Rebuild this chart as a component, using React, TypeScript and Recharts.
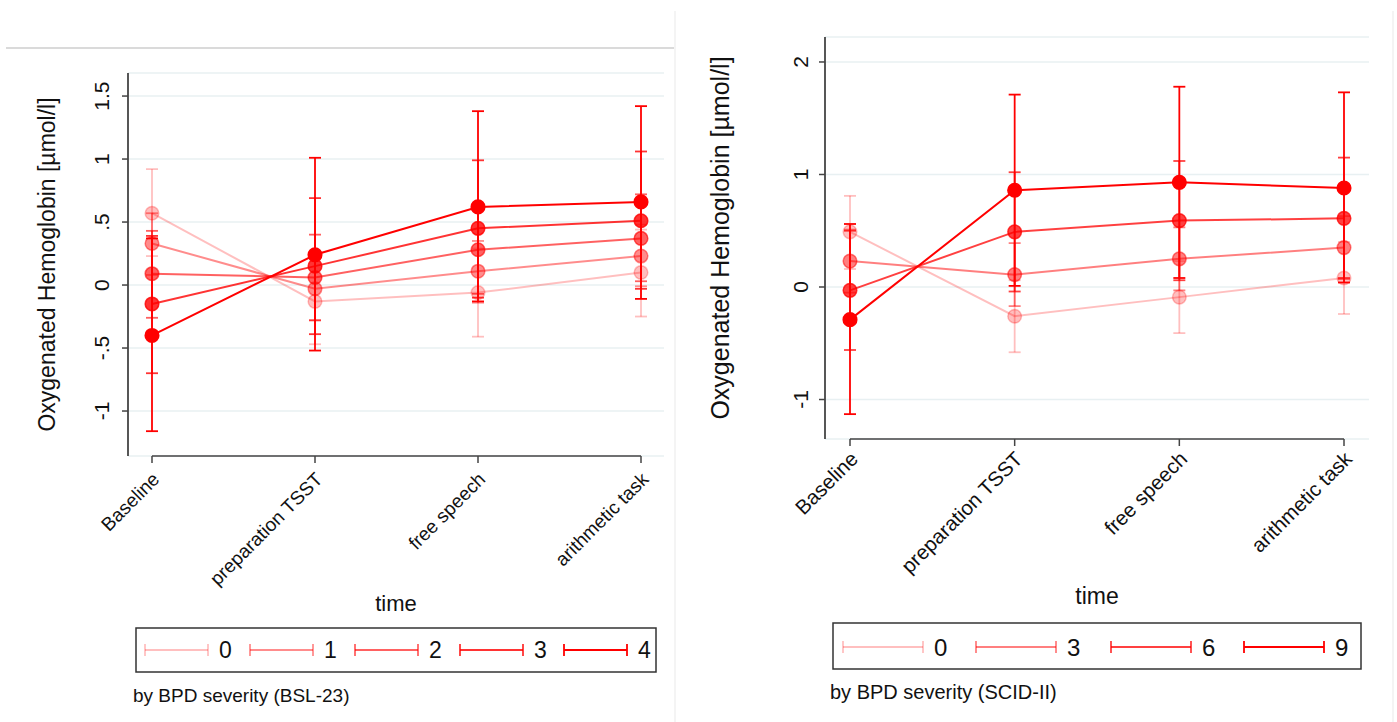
import React from 'react';
import { LineChart, Line, XAxis, YAxis, CartesianGrid, ErrorBar, Label, ReferenceLine } from 'recharts';

// Time points of the stress protocol
const timePoints = ['Baseline', 'preparation TSST', 'free speech', 'arithmetic task'];

// Panel A: predicted HbO by BPD severity (BSL-23) — margins with 95% CI
const bslLevels = ['0', '1', '2', '3', '4'];
const bslMean0 = [0.57, -0.13, -0.06, 0.10];
const bslLow0 = [0.23, -0.47, -0.41, -0.25];
const bslHigh0 = [0.92, 0.22, 0.29, 0.44];
const bslMean1 = [0.33, -0.03, 0.11, 0.23];
const bslLow1 = [0.08, -0.28, -0.14, -0.01];
const bslHigh1 = [0.57, 0.21, 0.35, 0.48];
const bslMean2 = [0.09, 0.06, 0.28, 0.37];
const bslLow2 = [-0.26, -0.28, -0.07, 0.03];
const bslHigh2 = [0.43, 0.40, 0.62, 0.72];
const bslMean3 = [-0.15, 0.15, 0.45, 0.51];
const bslLow3 = [-0.70, -0.39, -0.10, -0.03];
const bslHigh3 = [0.39, 0.69, 0.99, 1.06];
const bslMean4 = [-0.40, 0.24, 0.62, 0.66];
const bslLow4 = [-1.16, -0.52, -0.13, -0.11];
const bslHigh4 = [0.37, 1.01, 1.38, 1.42];
const bslTicks = [-1, -0.5, 0, 0.5, 1, 1.5];

// Panel B: predicted HbO by BPD severity (SCID-II)
const scidLevels = ['0', '3', '6', '9'];
const scidMean0 = [0.49, -0.26, -0.09, 0.08];
const scidLow0 = [0.16, -0.58, -0.41, -0.24];
const scidHigh0 = [0.81, 0.06, 0.23, 0.40];
const scidMean3 = [0.23, 0.11, 0.25, 0.35];
const scidLow3 = [-0.05, -0.17, -0.03, 0.07];
const scidHigh3 = [0.51, 0.39, 0.53, 0.63];
const scidMean6 = [-0.03, 0.49, 0.59, 0.61];
const scidLow6 = [-0.56, -0.04, 0.06, 0.08];
const scidHigh6 = [0.50, 1.02, 1.12, 1.15];
const scidMean9 = [-0.29, 0.86, 0.93, 0.88];
const scidLow9 = [-1.13, 0.01, 0.08, 0.04];
const scidHigh9 = [0.56, 1.71, 1.78, 1.73];
const scidTicks = [-1, 0, 1, 2];

const FONT = '"Liberation Sans", Arial, Helvetica, sans-serif';
const AXIS = '#444';
const GRID = '#e8f0f2';

type Series = { name: string; mean: number[]; low: number[]; high: number[]; opacity: number };

const bslSeries: Series[] = [
  { name: bslLevels[0], mean: bslMean0, low: bslLow0, high: bslHigh0, opacity: 0.25 },
  { name: bslLevels[1], mean: bslMean1, low: bslLow1, high: bslHigh1, opacity: 0.45 },
  { name: bslLevels[2], mean: bslMean2, low: bslLow2, high: bslHigh2, opacity: 0.62 },
  { name: bslLevels[3], mean: bslMean3, low: bslLow3, high: bslHigh3, opacity: 0.8 },
  { name: bslLevels[4], mean: bslMean4, low: bslLow4, high: bslHigh4, opacity: 1 },
];

const scidSeries: Series[] = [
  { name: scidLevels[0], mean: scidMean0, low: scidLow0, high: scidHigh0, opacity: 0.25 },
  { name: scidLevels[1], mean: scidMean3, low: scidLow3, high: scidHigh3, opacity: 0.5 },
  { name: scidLevels[2], mean: scidMean6, low: scidLow6, high: scidHigh6, opacity: 0.75 },
  { name: scidLevels[3], mean: scidMean9, low: scidLow9, high: scidHigh9, opacity: 1 },
];

const red = (op: number) => `rgba(255,0,0,${op})`;

function buildRows(series: Series[]) {
  return timePoints.map((t, i) => {
    const row: Record<string, any> = { time: t };
    series.forEach((s, k) => {
      row['m' + k] = s.mean[i];
      row['e' + k] = [s.mean[i] - s.low[i], s.high[i] - s.mean[i]];
    });
    return row;
  });
}

const stataNum = (v: number) => (v === 0 ? '0' : String(v).replace('0.', '.'));

type PanelCfg = {
  left: number;
  width: number;
  height: number;
  margin: { top: number; right: number; bottom: number; left: number };
  xAxisHeight: number;
  yDomain: [number, number];
  yTicks: number[];
  xPad: { left: number; right: number };
  yLabelX: number;
  yLabelSize: number;
  yTickSize: number;
  yTickGap: number;
  xTickSize: number;
  xTickGap: number;
  timeY: number;
  timeSize: number;
  series: Series[];
  legend: {
    box: [number, number, number, number];
    segStart: number[];
    segLen: number;
    lineY: number;
    labelSize: number;
    caption: string;
    captionX: number;
    captionY: number;
    captionSize: number;
  };
};

function Panel({ cfg }: { cfg: PanelCfg }) {
  const data = buildRows(cfg.series);
  const plotTop = cfg.margin.top;
  const plotBottom = cfg.height - cfg.margin.bottom - cfg.xAxisHeight;
  const plotLeft = cfg.margin.left + 60;
  const plotRight = cfg.width - cfg.margin.right;
  const midY = (plotTop + plotBottom) / 2;
  const midX = (plotLeft + plotRight) / 2;

  const YTick = (p: any) => (
    <text
      x={p.x}
      y={p.y}
      transform={`rotate(-90 ${p.x} ${p.y})`}
      textAnchor="middle"
      dominantBaseline="central"
      fontSize={cfg.yTickSize}
      fontFamily={FONT}
      fill="#111"
    >
      {stataNum(p.payload.value)}
    </text>
  );

  const XTick = (p: any) => {
    const ax = p.x + 4;
    const ay = p.y;
    return (
      <text
        x={ax}
        y={ay}
        transform={`rotate(-45 ${ax} ${ay})`}
        textAnchor="end"
        dominantBaseline="central"
        fontSize={cfg.xTickSize}
        fontFamily={FONT}
        fill="#111"
      >
        {p.payload.value}
      </text>
    );
  };

  const lg = cfg.legend;
  return (
    <div style={{ position: 'absolute', left: cfg.left, top: 0, width: cfg.width, height: cfg.height }}>
      <LineChart width={cfg.width} height={cfg.height} data={data} margin={cfg.margin}>
        <CartesianGrid horizontal vertical={false} stroke={GRID} strokeWidth={1.5} />
        <XAxis
          dataKey="time"
          type="category"
          height={cfg.xAxisHeight}
          padding={cfg.xPad}
          axisLine={false}
          tickLine={{ stroke: AXIS, strokeWidth: 1.5 }}
          tickSize={7}
          tickMargin={cfg.xTickGap}
          interval={0}
          tick={XTick}
        >
          <Label
            content={() => (
              <text
                x={midX}
                y={cfg.timeY}
                textAnchor="middle"
                dominantBaseline="central"
                fontSize={cfg.timeSize}
                fontFamily={FONT}
                fill="#111"
              >
                time
              </text>
            )}
          />
        </XAxis>
        <YAxis
          type="number"
          width={60}
          domain={cfg.yDomain}
          allowDataOverflow
          ticks={cfg.yTicks}
          interval={0}
          axisLine={{ stroke: AXIS, strokeWidth: 1.8 }}
          tickLine={{ stroke: AXIS, strokeWidth: 1.5 }}
          tickSize={6}
          tickMargin={cfg.yTickGap}
          tick={YTick}
        >
          <Label
            content={() => (
              <text
                x={cfg.yLabelX}
                y={midY}
                transform={`rotate(-90 ${cfg.yLabelX} ${midY})`}
                textAnchor="middle"
                dominantBaseline="central"
                fontSize={cfg.yLabelSize}
                fontFamily={FONT}
                fill="#111"
              >
                Oxygenated Hemoglobin [µmol/l]
              </text>
            )}
          />
        </YAxis>
        <ReferenceLine
          segment={[
            { x: timePoints[0], y: cfg.yDomain[0] },
            { x: timePoints[timePoints.length - 1], y: cfg.yDomain[0] },
          ]}
          stroke={AXIS}
          strokeWidth={1.5}
          ifOverflow="visible"
        />
        {cfg.series.map((s, k) => (
          <Line
            key={s.name}
            type="linear"
            dataKey={'m' + k}
            name={s.name}
            stroke={red(s.opacity)}
            strokeWidth={2}
            dot={{ r: 6.8, fill: red(s.opacity), stroke: red(s.opacity), strokeWidth: 1.5 }}
            activeDot={false}
            isAnimationActive={false}
          >
            <ErrorBar dataKey={'e' + k} width={6} stroke={red(s.opacity)} strokeWidth={1.8} direction="y" />
          </Line>
        ))}
      </LineChart>
      <svg
        width={cfg.width}
        height={cfg.height}
        style={{ position: 'absolute', left: 0, top: 0, pointerEvents: 'none' }}
      >
        <rect
          x={lg.box[0] - cfg.left}
          y={lg.box[1]}
          width={lg.box[2] - lg.box[0]}
          height={lg.box[3] - lg.box[1]}
          fill="none"
          stroke="#333"
          strokeWidth={1.5}
        />
        {cfg.series.map((s, k) => {
          const x1 = lg.segStart[k] - cfg.left;
          const x2 = x1 + lg.segLen;
          const c = red(s.opacity);
          return (
            <g key={s.name}>
              <line x1={x1} y1={lg.lineY} x2={x2} y2={lg.lineY} stroke={c} strokeWidth={2} />
              <line x1={x1} y1={lg.lineY - 6} x2={x1} y2={lg.lineY + 6} stroke={c} strokeWidth={1.8} />
              <line x1={x2} y1={lg.lineY - 6} x2={x2} y2={lg.lineY + 6} stroke={c} strokeWidth={1.8} />
              <text
                x={x2 + 11}
                y={lg.lineY}
                dominantBaseline="central"
                fontSize={lg.labelSize}
                fontFamily={FONT}
                fill="#111"
              >
                {s.name}
              </text>
            </g>
          );
        })}
        <text
          x={lg.captionX - cfg.left}
          y={lg.captionY}
          dominantBaseline="central"
          fontSize={lg.captionSize}
          fontFamily={FONT}
          fill="#111"
        >
          {lg.caption}
        </text>
      </svg>
    </div>
  );
}

const bslCfg: PanelCfg = {
  left: 0,
  width: 680,
  height: 722,
  margin: { top: 73, right: 16, bottom: 0, left: 68 },
  xAxisHeight: 266,
  yDomain: [-1.357, 1.683],
  yTicks: bslTicks,
  xPad: { left: 24, right: 23 },
  yLabelX: 47,
  yLabelSize: 23,
  yTickSize: 21,
  yTickGap: 20,
  xTickSize: 19,
  xTickGap: 13,
  timeY: 603,
  timeSize: 22,
  series: bslSeries,
  legend: {
    box: [136, 628, 656, 672],
    segStart: [145, 250, 355, 460, 564],
    segLen: 63,
    lineY: 650,
    labelSize: 23,
    caption: 'by BPD severity (BSL-23)',
    captionX: 133,
    captionY: 695,
    captionSize: 19,
  },
};

const scidCfg: PanelCfg = {
  left: 680,
  width: 717,
  height: 722,
  margin: { top: 37, right: 28, bottom: 0, left: 85 },
  xAxisHeight: 283,
  yDomain: [-1.351, 2.222],
  yTicks: scidTicks,
  xPad: { left: 25, right: 25 },
  yLabelX: 40,
  yLabelSize: 25,
  yTickSize: 21,
  yTickGap: 18,
  xTickSize: 20.5,
  xTickGap: 9,
  timeY: 596,
  timeSize: 23,
  series: scidSeries,
  legend: {
    box: [833, 623, 1361, 669],
    segStart: [843, 976, 1111, 1244],
    segLen: 80,
    lineY: 647,
    labelSize: 24,
    caption: 'by BPD severity (SCID-II)',
    captionX: 830,
    captionY: 692,
    captionSize: 20,
  },
};

export default function App() {
  return (
    <div
      style={{
        position: 'absolute',
        left: 0,
        top: 0,
        width: 1397,
        height: 722,
        background: '#fff',
        overflow: 'hidden',
        fontFamily: FONT,
      }}
    >
      <div style={{ position: 'absolute', left: 6, top: 47, width: 668, height: 2, background: '#dadada' }} />
      <div style={{ position: 'absolute', left: 674, top: 11, width: 2, height: 711, background: '#f4f4f4' }} />
      <div style={{ position: 'absolute', left: 1392, top: 11, width: 2, height: 711, background: '#f4f4f4' }} />
      <Panel cfg={bslCfg} />
      <Panel cfg={scidCfg} />
    </div>
  );
}
